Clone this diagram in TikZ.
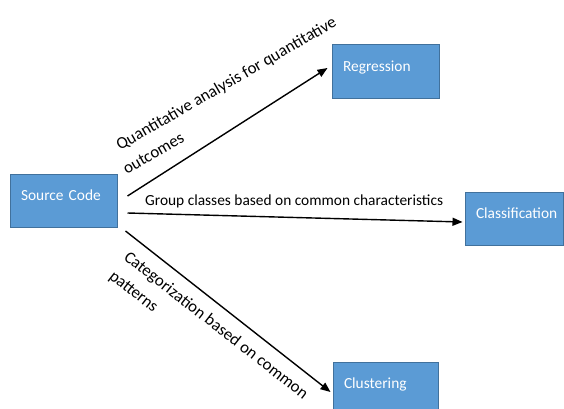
\documentclass[tikz,border=0pt]{standalone}
\usepackage{fontspec}
\setmainfont{Carlito}
\usetikzlibrary{arrows.meta}
\definecolor{boxfill}{HTML}{5B9BD5}
\definecolor{boxline}{HTML}{41719C}
\tikzset{
  blk/.style={draw=boxline, fill=boxfill, line width=1pt, text=white,
    font=\fontsize{15.4}{18}\selectfont, align=left, inner xsep=11pt, inner ysep=0pt,
    minimum height=53pt, text height=9pt, text depth=10pt},
  arr/.style={draw=black, line width=1.4pt, -{Triangle[length=10pt,width=8pt]}},
  lbl/.style={font=\fontsize{15.4}{24}\selectfont, inner sep=0pt, align=left, text=black},
  rlbl/.style={lbl, font=\fontsize{16.8}{24}\selectfont}
}
\begin{document}
\begin{tikzpicture}[x=1pt,y=1pt]
\useasboundingbox (0,0) rectangle (564,408);
\clip (0,0) rectangle (564,408);
\node[blk, text width=85pt] (src) at (63.5,207.5) {Source Code};
\node[blk, text width=85pt] (reg) at (385.5,336.5) {Regression};
\node[blk, text width=76pt] (cls) at (514,189) {Classification};
\node[blk, text width=83pt] (clu) at (385.5,19.5) {Clustering};
\draw[arr] ([xshift=10pt,yshift=4.5pt]src.east) -- ([xshift=-4pt,yshift=3.5pt]reg.west);
\draw[arr] ([xshift=10pt,yshift=-12.5pt]src.east) -- ([xshift=-2pt,yshift=-3pt]cls.west);
\draw[arr] ([xshift=8pt,yshift=-30.5pt]src.east) -- ([xshift=-2pt,yshift=-3.5pt]clu.west);
\node[rlbl, rotate=30, anchor=base west] (l1) at (132,236.2) {Quantitative analysis for quantitative\\\hspace*{-6pt}outcomes};
\node[lbl, anchor=base west] (l2) at (145,202.5) {Group classes based on common characteristics};
\node[rlbl, rotate=-38, anchor=base west] (l3) at (108.2,130.1) {Categorization based on common\\patterns};
\end{tikzpicture}
\end{document}
